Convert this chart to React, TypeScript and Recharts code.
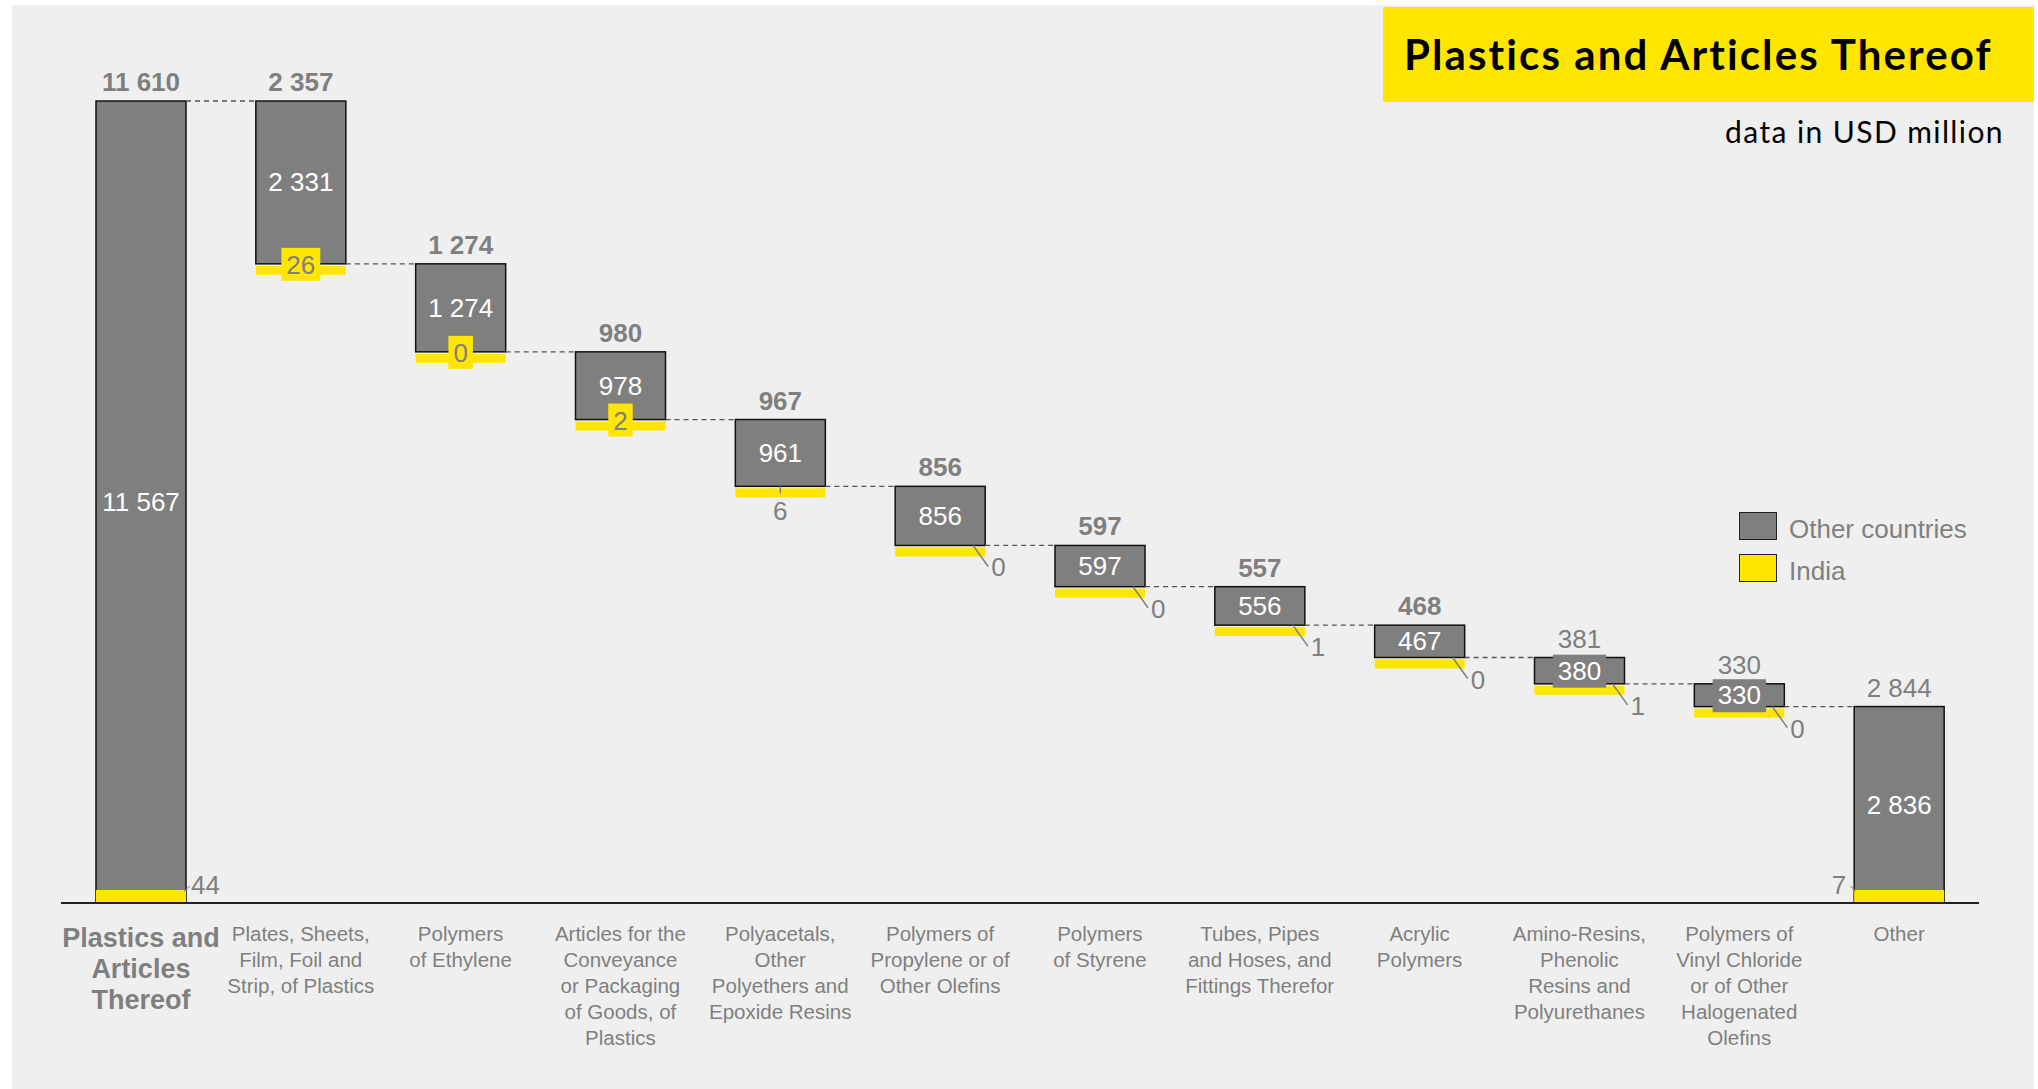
import React from 'react';
import { BarChart, Bar, XAxis, YAxis, LabelList } from 'recharts';

// category labels, line breaks as in the source slide
const categories = [
  'Plastics and\nArticles\nThereof',
  'Plates, Sheets,\nFilm, Foil and\nStrip, of Plastics',
  'Polymers\nof Ethylene',
  'Articles for the\nConveyance\nor Packaging\nof Goods, of\nPlastics',
  'Polyacetals,\nOther\nPolyethers and\nEpoxide Resins',
  'Polymers of\nPropylene or of\nOther Olefins',
  'Polymers\nof Styrene',
  'Tubes, Pipes\nand Hoses, and\nFittings Therefor',
  'Acrylic\nPolymers',
  'Amino-Resins,\nPhenolic\nResins and\nPolyurethanes',
  'Polymers of\nVinyl Chloride\nor of Other\nHalogenated\nOlefins',
  'Other',
];
const totals = [11610, 2357, 1274, 980, 967, 856, 597, 557, 468, 381, 330, 2844];
const otherCountries = [11567, 2331, 1274, 978, 961, 856, 597, 556, 467, 380, 330, 2836];
const india = [44, 26, 0, 2, 6, 0, 0, 1, 0, 1, 0, 7];
const isTotal = [true, false, false, false, false, false, false, false, false, false, false, true];
const boldTotals = [true, true, true, true, true, true, true, true, true, false, false, false];
const indiaLabelMode = ['right', 'box', 'box', 'box', 'below', 'diag', 'diag', 'diag', 'diag', 'diag', 'diag', 'left'];

const W = 2038;
const H = 1089;
const M = { top: 5, right: 59, bottom: 36, left: 61 };
const PLOT_W = W - M.left - M.right;
const BAR = 90;
const GREY = '#7f7f7f';
const YELLOW = '#ffe600';
const FONT = '"Liberation Sans", Arial, sans-serif';

// waterfall: each delta hangs from the level left by the previous one
let level = totals[0];
const data = categories.map((name, i) => {
  let start = 0;
  if (!isTotal[i]) {
    start = level - totals[i];
    level = start;
  }
  return { name, start, total: totals[i], other: otherCountries[i], india: india[i], isTotal: isTotal[i] };
});

const fmt = (n: number) => String(n).replace(/\B(?=(\d{3})+(?!\d))/g, ' ');
const textW = (s: string, fs: number) => s.split('').reduce((a, c) => a + (c === ' ' ? 0.278 : 0.556), 0) * fs;

const GreyShape = (p: any) => {
  const { x, y, width, height, payload } = p;
  const idx = categories.indexOf(payload.name);
  const band = PLOT_W / categories.length;
  const connY = payload.isTotal ? y : y + height;
  return (
    <g>
      <rect x={x} y={y} width={width} height={height} fill={GREY} stroke="#111" strokeWidth={1.5} />
      {idx < categories.length - 1 && (
        <line x1={x + width} x2={x + band} y1={connY} y2={connY} stroke="#555" strokeWidth={1.3} strokeDasharray="5 4" />
      )}
    </g>
  );
};

const IndiaShape = (p: any) => {
  const { x, y, width, height, payload } = p;
  const bottom = y + height;
  if (payload.isTotal) return <rect x={x} y={bottom - 13} width={width} height={13} fill={YELLOW} />;
  return <rect x={x} y={bottom + 2} width={width} height={9} fill={YELLOW} />;
};

const TopLabel = (p: any) => {
  const { x, y, width, value, index } = p;
  return (
    <text x={x + width / 2} y={y - 10} textAnchor="middle" fill={GREY} fontFamily={FONT} fontSize={26}
      fontWeight={boldTotals[index] ? 700 : 400}>
      {fmt(value)}
    </text>
  );
};

const InsideLabel = (p: any) => {
  const { x, y, width, height, value } = p;
  const cx = x + width / 2;
  const cy = y + height / 2;
  const s = fmt(value);
  const tw = textW(s, 26);
  return (
    <g>
      {height < 30 && <rect x={cx - tw / 2 - 5} y={cy - 16} width={tw + 10} height={33} fill={GREY} />}
      <text x={cx} y={cy + 9} textAnchor="middle" fill="#fff" fontFamily={FONT} fontSize={26}>{s}</text>
    </g>
  );
};

const IndiaLabel = (p: any) => {
  const { x, y, width, height, value, index } = p;
  const bottom = y + height;
  const cx = x + width / 2;
  const right = x + width;
  const s = fmt(value);
  const mode = indiaLabelMode[index];
  const t = { fill: GREY, fontFamily: FONT, fontSize: 26 };
  if (mode === 'box') {
    const bw = textW(s, 26) + 10;
    return (
      <g>
        <rect x={cx - bw / 2} y={bottom - 16} width={bw} height={33} fill={YELLOW} />
        <text x={cx} y={bottom + 10} textAnchor="middle" {...t}>{s}</text>
      </g>
    );
  }
  if (mode === 'below') {
    return (
      <g>
        <line x1={cx} x2={cx} y1={bottom} y2={bottom + 7} stroke={GREY} strokeWidth={1.5} />
        <text x={cx} y={bottom + 34} textAnchor="middle" {...t}>{s}</text>
      </g>
    );
  }
  if (mode === 'diag') {
    return (
      <g>
        <line x1={right - 12} y1={bottom} x2={right + 3} y2={bottom + 21} stroke={GREY} strokeWidth={1.5} />
        <text x={right + 6} y={bottom + 31} {...t}>{s}</text>
      </g>
    );
  }
  if (mode === 'right') {
    return (
      <g>
        <line x1={right - 2} y1={bottom - 12} x2={right + 4} y2={bottom - 17} stroke={GREY} strokeWidth={1} />
        <text x={right + 5} y={bottom - 9} {...t}>{s}</text>
      </g>
    );
  }
  return (
    <g>
      <line x1={x + 2} y1={bottom - 12} x2={x - 4} y2={bottom - 17} stroke={GREY} strokeWidth={1} />
      <text x={x - 8} y={bottom - 9} textAnchor="end" {...t}>{s}</text>
    </g>
  );
};

const CategoryTick = (p: any) => {
  const { x, y, payload } = p;
  const idx = p.index ?? payload.index;
  const lines = String(payload.value).split('\n');
  const first = idx === 0;
  const fs = first ? 27 : 20.5;
  const lh = first ? 31 : 26;
  const d0 = first ? 44 : 38;
  return (
    <text x={x} y={y} textAnchor="middle" fill={GREY} fontFamily={FONT} fontSize={fs} fontWeight={first ? 700 : 400}>
      {lines.map((l, i) => (
        <tspan key={i} x={x} y={y + d0 + i * lh}>{l}</tspan>
      ))}
    </text>
  );
};

export default function App() {
  return (
    <div style={{ position: 'absolute', left: 0, top: 0, width: W, height: H, background: '#fff', overflow: 'hidden' }}>
      <div style={{ position: 'absolute', left: 12, top: 5, width: 2022, height: 1084, background: '#efefef' }} />
      <div style={{ position: 'absolute', left: 0, top: 0 }}>
        <BarChart width={W} height={H} data={data} margin={M} barGap={-BAR}>
          <XAxis dataKey="name" interval={0} tickLine={false} tickSize={0} tickMargin={0} height={150}
            axisLine={{ stroke: '#222', strokeWidth: 2 }} tick={<CategoryTick />} />
          <YAxis hide domain={[0, 13000]} />
          <Bar dataKey="start" stackId="a" fill="transparent" barSize={BAR} isAnimationActive={false} />
          <Bar dataKey="total" name="Other countries" stackId="a" fill={GREY} barSize={BAR} shape={<GreyShape />}
            isAnimationActive={false}>
            <LabelList dataKey="total" content={<TopLabel />} />
            <LabelList dataKey="other" content={<InsideLabel />} />
          </Bar>
          <Bar dataKey="start" stackId="b" fill="transparent" barSize={BAR} isAnimationActive={false} />
          <Bar dataKey="india" name="India" stackId="b" fill={YELLOW} barSize={BAR} minPointSize={1}
            shape={<IndiaShape />} isAnimationActive={false}>
            <LabelList dataKey="india" content={<IndiaLabel />} />
          </Bar>
        </BarChart>
      </div>

      <div style={{ position: 'absolute', left: 1383, top: 7, width: 651, height: 95, background: YELLOW }} />
      <div style={{ position: 'absolute', left: 1404, top: 33, fontFamily: 'Lato, sans-serif', fontWeight: 700, fontSize: 42,
        lineHeight: '42px', letterSpacing: 2.1, color: '#000', whiteSpace: 'nowrap' }}>
        Plastics and Articles Thereof
      </div>
      <div style={{ position: 'absolute', right: W - 2004, top: 116, fontFamily: 'Lato, sans-serif', fontSize: 30,
        lineHeight: '30px', letterSpacing: 1.4, color: '#000', whiteSpace: 'nowrap' }}>
        data in USD million
      </div>

      <div style={{ position: 'absolute', left: 1739, top: 512, width: 36, height: 26, background: GREY, border: '1.5px solid #222' }} />
      <div style={{ position: 'absolute', left: 1789, top: 516, fontFamily: FONT, fontSize: 26, lineHeight: '26px', color: GREY }}>
        Other countries
      </div>
      <div style={{ position: 'absolute', left: 1739, top: 554, width: 36, height: 26, background: YELLOW, border: '1.5px solid #222' }} />
      <div style={{ position: 'absolute', left: 1789, top: 558, fontFamily: FONT, fontSize: 26, lineHeight: '26px', color: GREY }}>
        India
      </div>
    </div>
  );
}
